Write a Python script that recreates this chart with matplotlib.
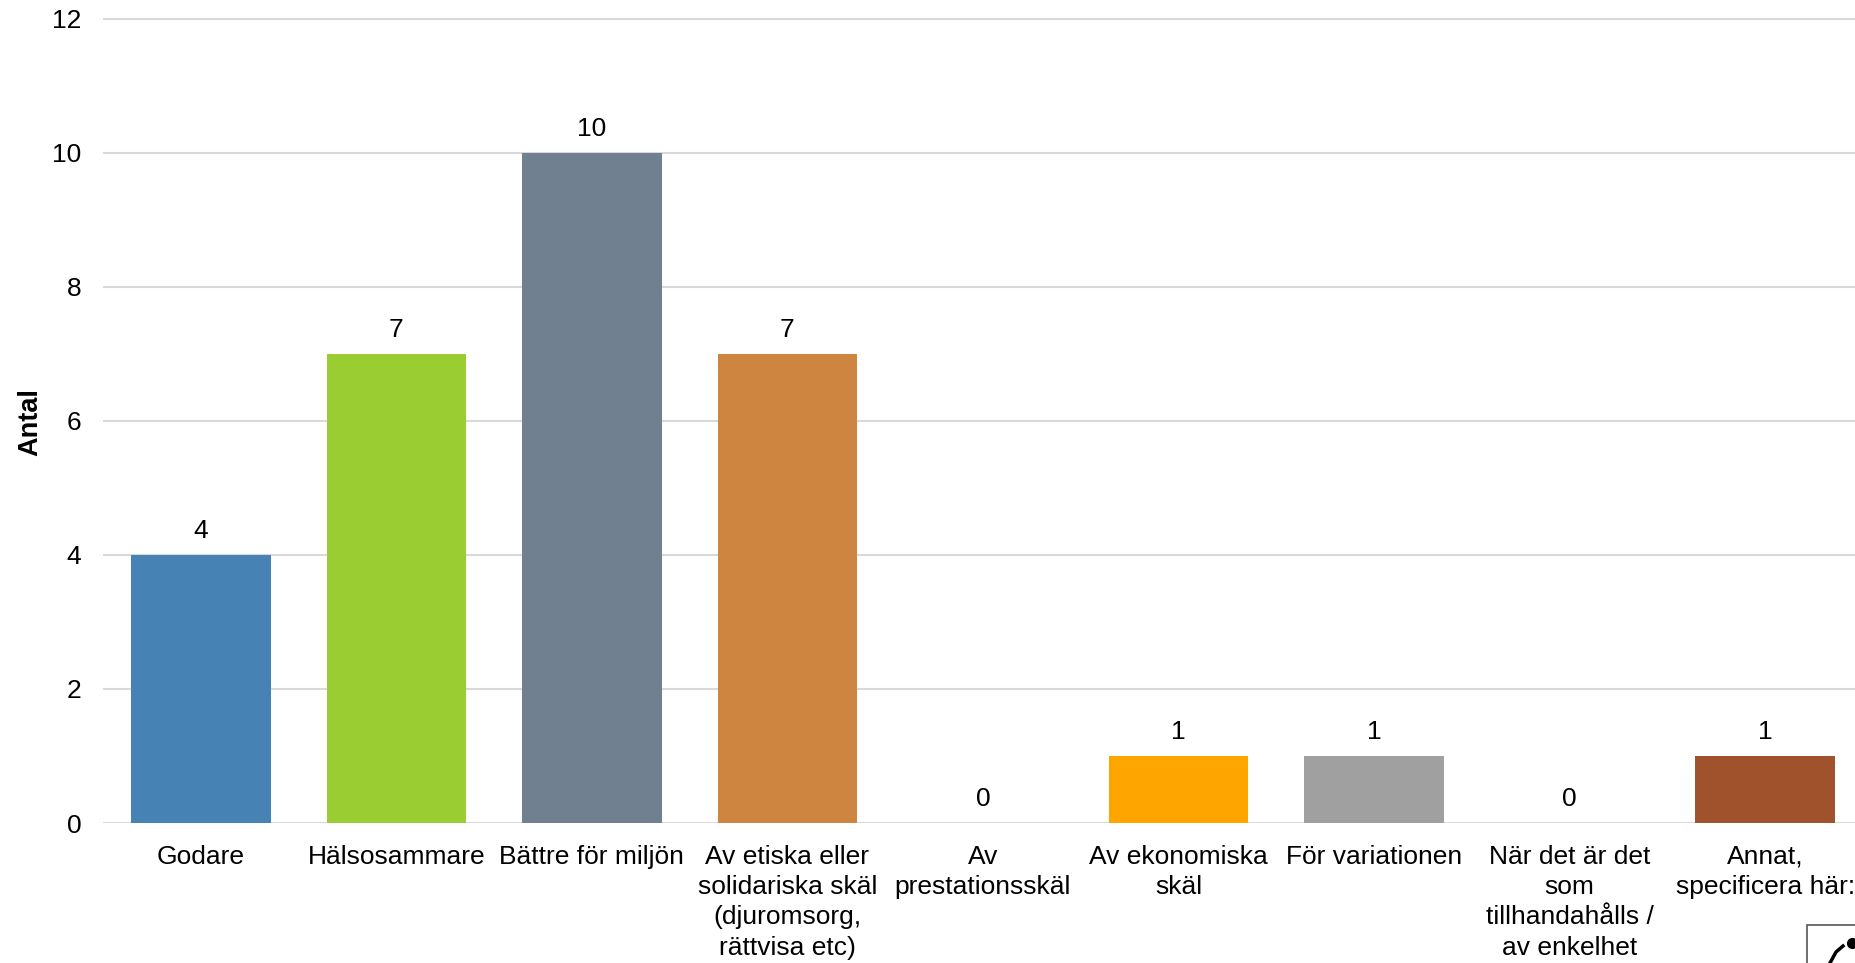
import matplotlib
matplotlib.use("Agg")
import matplotlib.pyplot as plt
from matplotlib.patches import Rectangle
from matplotlib.lines import Line2D

categories = [
    "Godare",
    "Hälsosammare",
    "Bättre för miljön",
    "Av etiska eller\nsolidariska skäl\n(djuromsorg,\nrättvisa etc)",
    "Av\nprestationsskäl",
    "Av ekonomiska\nskäl",
    "För variationen",
    "När det är det\nsom\ntillhandahålls /\nav enkelhet",
    "Annat,\nspecificera här:",
]
values = [4, 7, 10, 7, 0, 1, 1, 0, 1]
colors = ["#4682B4", "#9ACD32", "#708090", "#CD853F", "#8FBC8F",
          "#FFA500", "#A0A0A0", "#6A5ACD", "#A0522D"]
yticks = [0, 2, 4, 6, 8, 10, 12]
ylabel = "Antal"

plt.rcParams["font.family"] = ["Liberation Sans", "DejaVu Sans"]

W, H = 1855, 963
fig = plt.figure(figsize=(W / 100, H / 100), dpi=100)

# axes placed in pixel terms; the plot area runs slightly past the right edge
left_px, right_px = 103, 1863
zero_px, top_val_px = 823, 12.3
ymax = 12.1
ax = fig.add_axes([left_px / W, (H - zero_px) / H,
                   (right_px - left_px) / W, (zero_px - top_val_px) / H])

x = list(range(len(categories)))
bars = ax.bar(x, values, width=0.714, color=colors, zorder=3)

for xi, v in zip(x, values):
    ax.annotate(str(v), (xi, v), xytext=(0, 12), textcoords="offset points",
                ha="center", va="baseline", fontsize=19, color="black")

ax.set_xlim(-0.5, len(categories) - 0.5)
ax.set_ylim(0, ymax)
ax.set_yticks(yticks)
ax.set_yticklabels([str(t) for t in yticks])
ax.set_xticks(x)
ax.set_xticklabels(categories, fontsize=19, linespacing=1.34)
ax.tick_params(axis="both", length=0, labelsize=19, colors="black")
ax.tick_params(axis="y", pad=15.5)
ax.tick_params(axis="x", pad=15.5)

ax.yaxis.grid(True, color="#D9D9D9", linewidth=1.5, zorder=0)
ax.set_axisbelow(True)
for s in ax.spines.values():
    s.set_visible(False)

fig.text(30 / W, (H - 422) / H, ylabel, rotation=90, ha="center", va="center",
         fontsize=19.5, fontweight="bold")

# small framed emblem in the lower right corner
fig.patches.append(Rectangle((1807 / W, -0.05), 0.05, (H - 925) / H + 0.05,
                             transform=fig.transFigure, facecolor="white",
                             edgecolor="#555555", linewidth=1.2))
fig.lines.append(Line2D([1830 / W, 1836 / W, 1843 / W], [(H - 963) / H, (H - 952) / H, (H - 946) / H],
                        transform=fig.transFigure, color="black", linewidth=2.5))
fig.lines.append(Line2D([1852 / W], [(H - 943) / H], transform=fig.transFigure,
                        marker="o", markersize=7, color="black"))

fig.savefig("out.png", dpi=100, facecolor="white")
